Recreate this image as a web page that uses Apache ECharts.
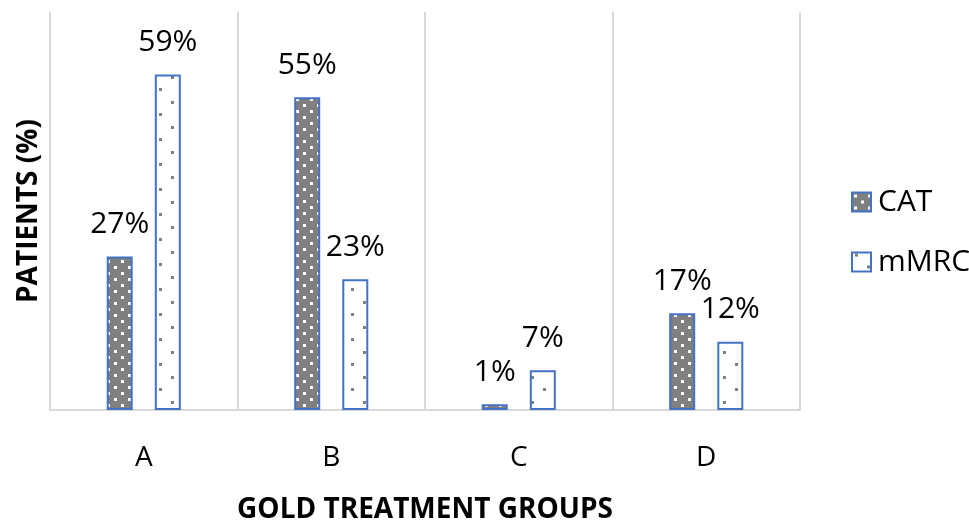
<!DOCTYPE html>
<html>
<head>
<meta charset="utf-8">
<script src="https://cdn.jsdelivr.net/npm/echarts@6/dist/echarts.min.js"></script>
<style>html,body{margin:0;padding:0;background:#fff}#c{width:969px;height:521px}</style>
</head>
<body>
<div id="c"></div>
<script>
const categories = ['A', 'B', 'C', 'D'];
const catValues = [27, 55, 1, 17];
const mmrcValues = [59, 23, 7, 12];
const seriesNames = ['CAT', 'mMRC'];

function makePattern(bg, dot, w, h, dots, size) {
  const cv = document.createElement('canvas');
  cv.width = w; cv.height = h;
  const ctx = cv.getContext('2d');
  ctx.fillStyle = bg; ctx.fillRect(0, 0, w, h);
  ctx.fillStyle = dot;
  dots.forEach(d => ctx.fillRect(d[0], d[1], size, size));
  return cv;
}
const catPat = makePattern('#7f7f7f', '#ffffff', 14, 12, [[2, 2], [9, 8]], 3);
const mmrcPat = makePattern('#ffffff', '#808080', 24, 25, [[3, 1], [15, 13]], 3);

const font = 'Open Sans';
const chart = echarts.init(document.getElementById('c'));
const labelCfg = {
  show: true, position: 'top', distance: 17, formatter: '{c}%',
  color: '#000', fontSize: 30, fontFamily: font
};
chart.setOption({
  animation: false,
  grid: { left: 50, right: 169, top: 12, bottom: 111, outerBoundsMode: 'none', containLabel: false },
  legend: {
    orient: 'vertical', left: 846, top: 182, itemWidth: 19, itemHeight: 19,
    itemGap: 30, icon: 'rect',
    textStyle: { fontSize: 30, fontFamily: font, color: '#000', padding: [0, 0, 0, 2] },
    data: seriesNames
  },
  xAxis: {
    type: 'category', data: categories,
    axisLine: { show: true, lineStyle: { color: '#d9d9d9', width: 2 } },
    axisTick: { show: false },
    splitLine: { show: true, interval: 0, lineStyle: { color: '#d9d9d9', width: 2 } },
    axisLabel: { margin: 34, fontSize: 28, fontFamily: font, color: '#000' },
    name: 'GOLD TREATMENT GROUPS', nameLocation: 'middle', nameGap: 86,
    nameTextStyle: { fontSize: 28, fontWeight: 'bold', fontFamily: font, color: '#000' }
  },
  yAxis: {
    type: 'value', min: 0, max: 70,
    axisLine: { show: false }, axisTick: { show: false },
    axisLabel: { show: false }, splitLine: { show: false },
    name: 'PATIENTS (%)', nameLocation: 'middle', nameGap: 7, nameRotate: 90,
    nameTextStyle: { fontSize: 28, fontWeight: 'bold', fontFamily: font, color: '#000' }
  },
  series: [
    {
      name: seriesNames[0], type: 'bar', data: catValues, barWidth: 26, barGap: '85%',
      itemStyle: { color: { image: catPat, repeat: 'repeat' }, borderColor: '#4472c4', borderWidth: 2 },
      label: labelCfg
    },
    {
      name: seriesNames[1], type: 'bar', data: mmrcValues, barWidth: 26,
      itemStyle: { color: { image: mmrcPat, repeat: 'repeat' }, borderColor: '#4472c4', borderWidth: 2 },
      label: labelCfg
    }
  ]
});
</script>
</body>
</html>
